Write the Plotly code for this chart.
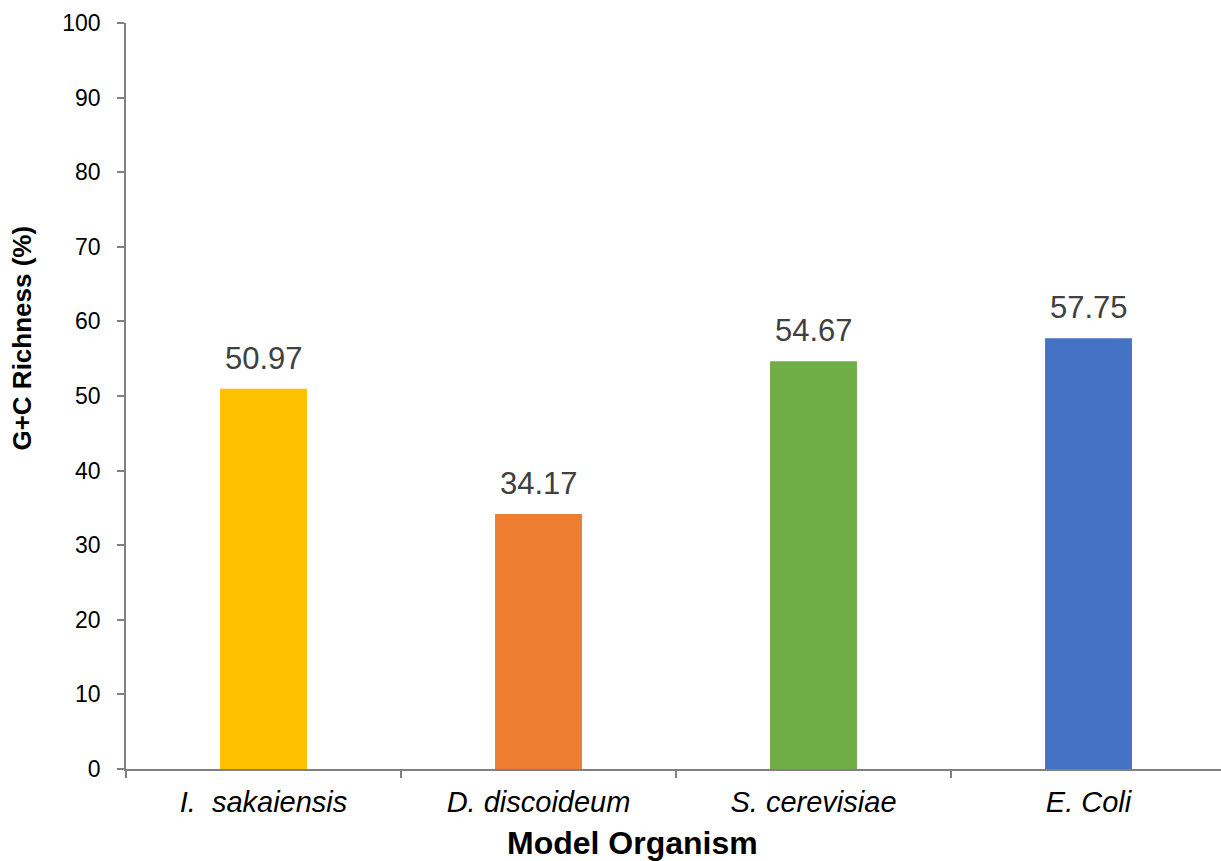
import plotly.graph_objects as go

# G+C content of four model organisms
organisms = ["I.\u00a0 sakaiensis", "D. discoideum", "S. cerevisiae", "E. Coli"]
gc_richness = [50.97, 34.17, 54.67, 57.75]
bar_colors = ["#FFC000", "#ED7D31", "#70AD47", "#4472C4"]
y_ticks = [0, 10, 20, 30, 40, 50, 60, 70, 80, 90, 100]

FONT = "Liberation Sans, Arial, sans-serif"
AXIS_GREY = "#808080"

W, H = 1221, 861
M_L, M_R, M_T, M_B = 126, 0, 23, 92
plot_w = W - M_L - M_R
plot_h = H - M_T - M_B
cat_px = 275  # width of one category slot

fig = go.Figure(
    go.Bar(
        x=organisms,
        y=gc_richness,
        marker=dict(color=bar_colors, line=dict(width=0)),
        width=0.316,
        hoverinfo="x+y",
    )
)

# value labels above each bar
for name, val in zip(organisms, gc_richness):
    fig.add_annotation(
        x=name, y=val, text=f"{val:.2f}", showarrow=False,
        yanchor="bottom", yshift=11,
        font=dict(family=FONT, size=31, color="#404040"),
    )

# axis titles
fig.add_annotation(
    xref="paper", yref="paper", x=(632.5 - M_L) / plot_w, y=-(843 - (M_T + plot_h)) / plot_h,
    text="<b>Model Organism</b>", showarrow=False,
    xanchor="center", yanchor="middle",
    font=dict(family=FONT, size=32, color="#000000"),
)
fig.add_annotation(
    xref="paper", yref="paper", x=(22 - M_L) / plot_w, y=0.577,
    text="<b>G+C Richness (%)</b>", showarrow=False, textangle=-90,
    xanchor="center", yanchor="middle",
    font=dict(family=FONT, size=26, color="#000000"),
)

fig.update_layout(
    width=W, height=H,
    margin=dict(l=M_L, r=M_R, t=M_T, b=M_B, pad=0),
    paper_bgcolor="white", plot_bgcolor="white",
    showlegend=False,
    font=dict(family=FONT, color="#000000"),
)
fig.update_xaxes(
    range=[-0.5, -0.5 + plot_w / cat_px],
    showline=True, linecolor=AXIS_GREY, linewidth=1.5,
    ticks="outside", tickson="boundaries", ticklen=7, tickwidth=1.5, tickcolor=AXIS_GREY,
    tickfont=dict(family=FONT, size=29, color="#000000", style="italic"),
    ticklabelstandoff=6,
    showgrid=False, zeroline=False,
)
fig.update_yaxes(
    range=[0, 100], tickvals=y_ticks,
    showline=True, linecolor=AXIS_GREY, linewidth=1.5,
    ticks="outside", ticklen=7, tickwidth=1.5, tickcolor=AXIS_GREY,
    tickfont=dict(family=FONT, size=23, color="#000000"),
    ticklabelstandoff=12,
    showgrid=False, zeroline=False,
)

fig.write_html("out.html")
